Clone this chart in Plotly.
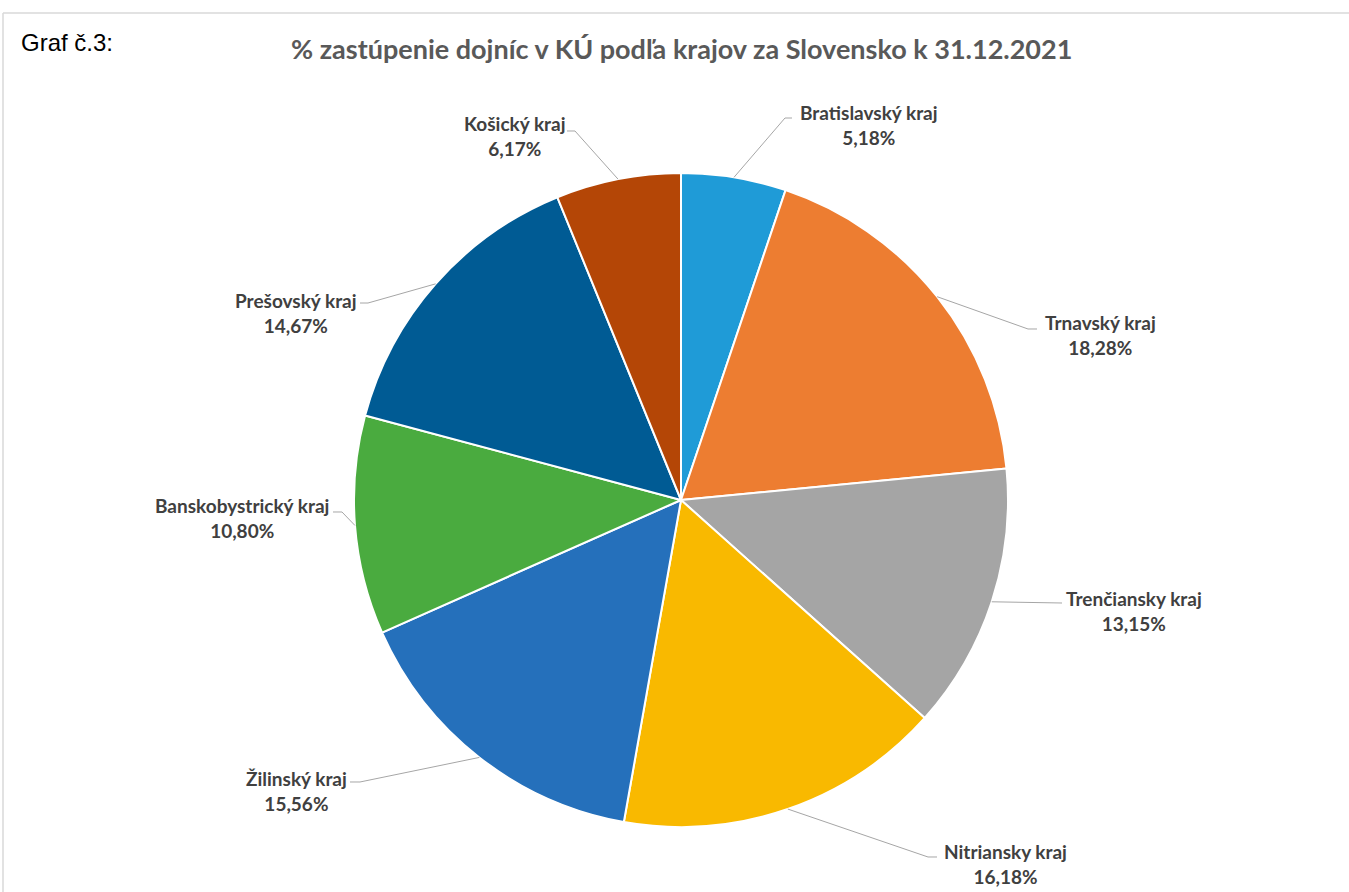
import math
import plotly.graph_objects as go

# Podiel dojníc v KÚ podľa krajov (%)
regions = ["Bratislavský kraj", "Trnavský kraj", "Trenčiansky kraj", "Nitriansky kraj",
           "Žilinský kraj", "Banskobystrický kraj", "Prešovský kraj", "Košický kraj"]
shares = [5.18, 18.28, 13.15, 16.18, 15.56, 10.80, 14.67, 6.17]
colors = ["#1F9BD7", "#ED7D31", "#A5A5A5", "#F9B900",
          "#2570BB", "#4AAB3F", "#005B94", "#B44606"]

W, H = 1349, 892
CX, CY, R = 681, 500, 327  # pie centre and radius in pixels

# label box centre and elbow / end of the leader line, in pixels
label_layout = [
    ((869, 125), (785, 118), (792, 118)),
    ((1100, 335), (1028, 329), (1037, 329)),
    ((1134, 611), None, (1062, 603)),
    ((1005, 864), (928, 857), (937, 857)),
    ((296, 791), (360, 782), (350, 782)),
    ((242, 518), (342, 512), (333, 512)),
    ((296, 313), (368, 303), (360, 303)),
    ((514, 136), (575, 131), (567, 131)),
]


def px(x):
    return x / W


def py(y):
    return 1 - y / H


fig = go.Figure(go.Pie(
    labels=regions,
    values=shares,
    sort=False,
    direction="clockwise",
    rotation=0,
    marker=dict(colors=colors, line=dict(color="white", width=2)),
    textinfo="none",
    hoverinfo="label+percent",
    showlegend=False,
    domain=dict(x=[px(CX - R), px(CX + R)], y=[py(CY + R), py(CY - R)]),
))

shapes = []
annotations = []
total = sum(shares)
cum = 0.0
for name, val, (centre, elbow, end) in zip(regions, shares, label_layout):
    mid = (cum + val / 2) / total * 2 * math.pi
    cum += val
    sx = CX + R * math.sin(mid)
    sy = CY - R * math.cos(mid)
    pts = [(sx, sy)]
    if elbow is not None:
        pts.append(elbow)
    pts.append(end)
    path = "M " + " L ".join(f"{px(x):.5f},{py(y):.5f}" for x, y in pts)
    shapes.append(dict(type="path", xref="paper", yref="paper", path=path,
                       line=dict(color="#A6A6A6", width=1)))
    annotations.append(dict(
        x=px(centre[0]), y=py(centre[1]), xref="paper", yref="paper",
        xanchor="center", yanchor="middle", showarrow=False, align="center",
        text=f"<b>{name}<br>{val:.2f}%</b>".replace(".", ","),
        font=dict(family="Lato", size=19, color="#404040"),
    ))

# chart frame
shapes.append(dict(type="line", xref="paper", yref="paper",
                   x0=px(3), y0=py(13), x1=1.01, y1=py(13),
                   line=dict(color="#D9D9D9", width=1.5)))
shapes.append(dict(type="line", xref="paper", yref="paper",
                   x0=px(3), y0=py(13), x1=px(3), y1=-0.01,
                   line=dict(color="#D9D9D9", width=1.5)))

annotations.append(dict(
    x=px(681), y=py(48), xref="paper", yref="paper",
    xanchor="center", yanchor="middle", showarrow=False,
    text="<b>% zastúpenie dojníc v KÚ podľa krajov za Slovensko k 31.12.2021</b>",
    font=dict(family="Lato", size=27, color="#595959"),
))
annotations.append(dict(
    x=px(19), y=py(43), xref="paper", yref="paper",
    xanchor="left", yanchor="middle", showarrow=False,
    text="Graf č.3:",
    font=dict(family="Liberation Sans", size=24, color="#000000"),
))

fig.update_layout(
    width=W, height=H,
    margin=dict(l=0, r=0, t=0, b=0),
    paper_bgcolor="white",
    plot_bgcolor="white",
    shapes=shapes,
    annotations=annotations,
)

fig.write_html("out.html")
